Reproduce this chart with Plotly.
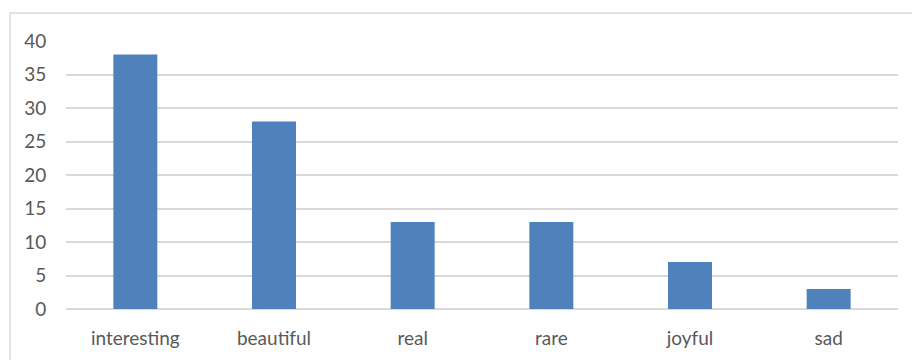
import plotly.graph_objects as go

categories = ["interesting", "beautiful", "real", "rare", "joyful", "sad"]
counts = [38, 28, 13, 13, 7, 3]
y_ticks = [0, 5, 10, 15, 20, 25, 30, 35, 40]

W, H = 912, 360
ml, mr, mt, mb = 66, 14, 41, 51
pw = W - ml - mr
ph = H - mt - mb

fig = go.Figure(
    go.Bar(
        x=categories,
        y=counts,
        marker=dict(color="#4F81BD", line=dict(width=0)),
    )
)

# chart-area frame (right and bottom edges run past the canvas)
fig.add_shape(
    type="rect",
    xref="paper", yref="paper",
    x0=(10 - ml) / pw, x1=(W + 10 - ml) / pw,
    y0=-(mb + 10) / ph, y1=1 + (mt - 13) / ph,
    line=dict(color="#D9D9D9", width=1.5),
    fillcolor="rgba(0,0,0,0)",
    layer="below",
)

label_font = dict(family="Lato, Open Sans, sans-serif", size=19, color="#595959")

fig.update_layout(
    width=W, height=H,
    margin=dict(l=ml, r=mr, t=mt, b=mb),
    paper_bgcolor="white",
    plot_bgcolor="white",
    bargap=0.683,
    showlegend=False,
    font=label_font,
    xaxis=dict(
        showgrid=False,
        showline=False,
        ticks="",
        tickfont=label_font,
        ticklabelstandoff=16,
    ),
    yaxis=dict(
        range=[0, 40],
        tickvals=y_ticks,
        showgrid=True,
        gridcolor="#D9D9D9",
        gridwidth=1.5,
        zeroline=True,
        zerolinecolor="#D9D9D9",
        zerolinewidth=1.5,
        showline=False,
        ticks="outside",
        ticklen=15,
        tickcolor="rgba(0,0,0,0)",
        tickfont=label_font,
    ),
)

fig.write_html("out.html")
